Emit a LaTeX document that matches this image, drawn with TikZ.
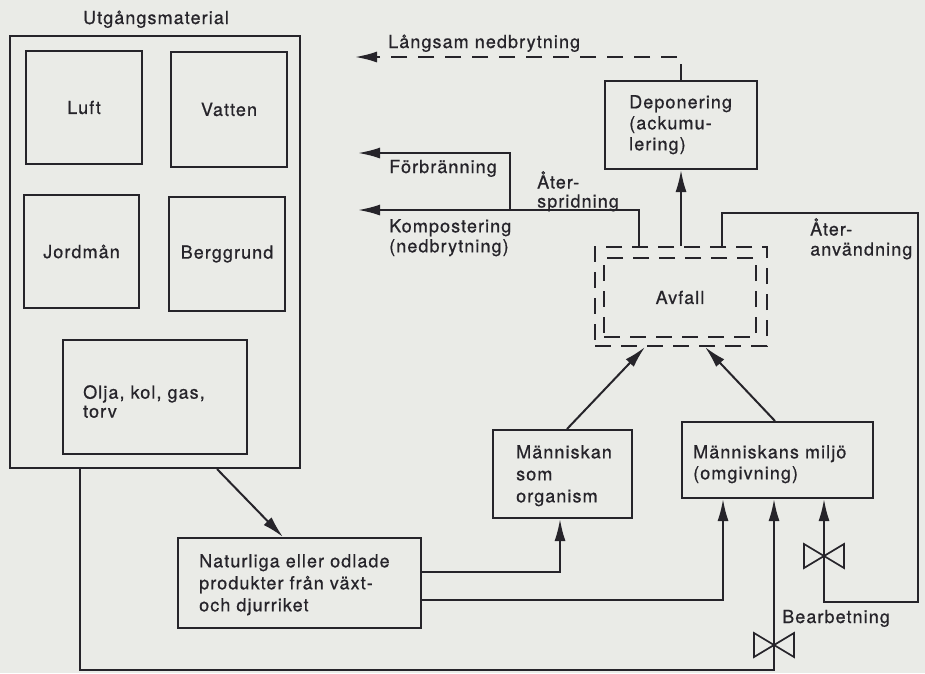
\documentclass[tikz,border=0pt]{standalone}
\usepackage{fontspec}
\setmainfont{TeX Gyre Heros}[LetterSpace=6, FakeBold=0.7]
\usetikzlibrary{arrows.meta}
\definecolor{paper}{RGB}{234,235,231}
\definecolor{ink}{RGB}{38,36,42}
\begin{document}
\begin{tikzpicture}[x=1pt,y=-1pt,
  every node/.style={font=\fontsize{18}{22}\selectfont, text=ink},
  box/.style={draw=ink, line width=2pt, inner sep=0pt},
  dbox/.style={box, dash pattern=on 16pt off 10pt},
  txt/.style={inner sep=0pt, align=left},
  line/.style={draw=ink, line width=2pt},
  arr/.style={line, -{Latex[length=22pt,width=11pt]}},
  slow/.style={arr, dash pattern=on 16pt off 11pt},
  valve/.style={draw=ink, line width=1.7pt, fill=paper, line join=miter}
]
\fill[paper] (0,0) rectangle (925,673);
\useasboundingbox (0,0) rectangle (925,673);

% Utgångsmaterial
\node[box, minimum width=290pt, minimum height=432pt] (um) at (155,252) {};
\node[txt, anchor=base] (umT) at (156,24) {Utgångsmaterial};
\node[box, minimum width=116pt, minimum height=113pt] (luft) at (84,107.5) {Luft};
\node[box, minimum width=116pt, minimum height=115pt] (vatten) at (229,109.5) {Vatten};
\node[box, minimum width=115pt, minimum height=113pt] (jord) at (81.5,251.5) {Jordmån};
\node[box, minimum width=116pt, minimum height=114pt] (berg) at (227,254) {Berggrund};
\node[box, minimum width=184pt, minimum height=114pt] (olja) at (155,397) {};
\node[txt, anchor=north west] (oljaT) at (83,385) {Olja, kol, gas,\\[-3pt]torv};

% Naturliga
\node[box, minimum width=243pt, minimum height=90pt] (nat) at (299.5,583) {};
\node[txt, anchor=north west] (natT) at (199,554) {Naturliga eller odlade\\produkter från växt-\\och djurriket};

% Människan
\node[box, minimum width=139pt, minimum height=88pt] (mann) at (562.5,474) {};
\node[txt, anchor=north west] (mannT) at (516,445) {Människan\\som\\organism};

% Människans miljö
\node[box, minimum width=191pt, minimum height=76pt] (milj) at (777.5,460) {};
\node[txt, anchor=north west] (miljT) at (693,445) {Människans miljö\\[-1pt](omgivning)};

% Deponering
\node[box, minimum width=152pt, minimum height=88pt] (dep) at (681,125) {};
\node[txt, anchor=north west] (depT) at (629,95) {Deponering\\[-1pt](ackumu-\\[-1pt]lering)};

% Avfall
\node[dbox, minimum width=172pt, minimum height=99pt] (avO) at (681,296.5) {};
\node[dbox, minimum width=152pt, minimum height=79pt] (avI) at (680,297.5) {Avfall};

% free labels
\node[txt, anchor=base west] (slowT) at (388,48) {Långsam nedbrytning};
\node[txt, anchor=base west] (forbT) at (389,173) {Förbränning};
\node[txt, anchor=north west] (kompT) at (389,219) {Kompostering\\[-2pt](nedbrytning)};
\node[txt, anchor=north west] (sprT) at (537,171) {Åter-\\[-3pt]spridning};
\node[txt, anchor=north west] (anvT) at (810,218) {Åter-\\[-2pt]användning};
\node[txt, anchor=base west] (bearbT) at (782,623) {Bearbetning};

% coordinates
\coordinate (slowEnd) at (355,57);
\coordinate (kompEnd) at (358,210);
\coordinate (forbEnd) at (358,153);
\coordinate (split) at (510,210);
\coordinate (reuseTR) at (918,213);
\coordinate (reuseBR) at (918,602);
\coordinate (botR) at (774,670);
\coordinate (valveA) at (824,556);
\coordinate (valveB) at (774,645);

% connectors
\draw[arr] ([xshift=62pt]um.south) -- ([xshift=-16.5pt]nat.north);
\draw[arr] ([xshift=-75pt]um.south) |- (botR) -- ([xshift=-3.5pt]milj.south);
\draw[arr] ([yshift=11pt]nat.east) -| ([xshift=-2.5pt]mann.south);
\draw[arr] ([yshift=-17pt]nat.east) -| ([xshift=-54.5pt]milj.south);
\draw[arr] ([xshift=4.5pt]mann.north) -- ([xshift=-36pt]avO.south);
\draw[arr] ([xshift=-2.5pt]milj.north) -- ([xshift=24pt]avO.south);
\draw[arr] (avO.north) -- (dep.south);
\draw[slow] (dep.north) |- (slowEnd);
\draw[arr] ([xshift=-42pt]avO.north) |- (kompEnd);
\draw[arr] (split) |- (forbEnd);
\draw[arr] ([xshift=41pt]avO.north) |- (reuseTR) -- (reuseBR) -| ([xshift=46.5pt]milj.south);

% valves
\foreach \v in {valveA,valveB}
  \draw[valve] (\v) +(-20,-12) -- +(-20,12) -- +(20,-12) -- +(20,12) -- cycle;
\end{tikzpicture}
\end{document}
